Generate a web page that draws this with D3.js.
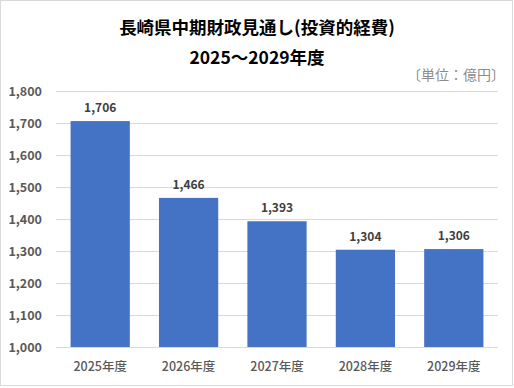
<!DOCTYPE html>
<html>
<head>
<meta charset="utf-8">
<script src="https://cdn.jsdelivr.net/npm/d3@7"></script>
<style>
  body { margin: 0; background: #fff; }
  svg { display: block; font-family: "Noto Sans CJK JP", "Noto Sans", sans-serif; }
</style>
</head>
<body>
<svg id="chart" width="514" height="388"></svg>
<script>
// data
var years = ["2025年度", "2026年度", "2027年度", "2028年度", "2029年度"]
var values = [1706, 1466, 1393, 1304, 1306]
var yTicks = [1000, 1100, 1200, 1300, 1400, 1500, 1600, 1700, 1800]

var svg = d3.select("#chart")

// outer frame
svg.append("rect")
  .attr("x", 0.5).attr("y", 0.5)
  .attr("width", 512).attr("height", 385)
  .attr("fill", "#fff")
  .attr("stroke", "#d9d9d9")

// titles
svg.append("text")
  .attr("x", 257).attr("y", 34)
  .attr("text-anchor", "middle")
  .style("font-size", "17.5px").style("font-weight", "bold")
  .attr("fill", "#000")
  .text("長崎県中期財政見通し(投資的経費)")

svg.append("text")
  .attr("x", 257).attr("y", 64)
  .attr("text-anchor", "middle")
  .style("font-size", "17.5px").style("font-weight", "bold")
  .attr("fill", "#000")
  .text("2025～2029年度")

svg.append("text")
  .attr("x", 505).attr("y", 80)
  .attr("text-anchor", "end")
  .style("font-size", "14px")
  .attr("fill", "#8c8c8c")
  .text("〔単位：億円〕")

var x = d3.scaleBand()
  .domain(years)
  .range([56, 498])
  .paddingInner(0.33)
  .paddingOuter(0.165)

var y = d3.scaleLinear()
  .domain([1000, 1800])
  .range([347, 91])

// gridlines
svg.append("g")
  .selectAll("line")
  .data(yTicks)
  .enter()
  .append("line")
    .attr("x1", 56).attr("x2", 498)
    .attr("y1", d => Math.round(y(d)) + 0.5)
    .attr("y2", d => Math.round(y(d)) + 0.5)
    .attr("stroke", "#d9d9d9")

// y axis labels
var yAxis = d3.axisLeft(y)
  .tickValues(yTicks)
  .tickFormat(d3.format(","))
  .tickSize(0)
  .tickPadding(0)

svg.append("g")
  .attr("transform", "translate(42,0)")
  .call(yAxis)
  .call(g => g.select(".domain").remove())
  .call(g => g.selectAll("text")
    .attr("fill", "#595959")
    .style("font-size", "12.5px")
    .style("font-weight", "bold")
    .style("font-family", "'Noto Sans CJK JP', sans-serif"))

// bars
svg.append("g")
  .selectAll("rect")
  .data(values)
  .enter()
  .append("rect")
    .attr("x", (d, i) => x(years[i]))
    .attr("y", d => y(d))
    .attr("width", x.bandwidth())
    .attr("height", d => y(1000) - y(d))
    .attr("fill", "#4472c4")

// value labels
svg.append("g")
  .selectAll("text")
  .data(values)
  .enter()
  .append("text")
    .attr("x", (d, i) => x(years[i]) + x.bandwidth() / 2)
    .attr("y", d => y(d) - 9)
    .attr("text-anchor", "middle")
    .style("font-size", "12px")
    .style("font-weight", "bold")
    .attr("fill", "#404040")
    .text(d => d3.format(",")(d))

// x axis labels
var xAxis = d3.axisBottom(x).tickSize(0).tickPadding(0)
svg.append("g")
  .attr("transform", "translate(0,362)")
  .call(xAxis)
  .call(g => g.select(".domain").remove())
  .call(g => g.selectAll("text")
    .attr("fill", "#595959")
    .style("font-size", "12.5px")
    .style("font-weight", "500")
    .style("font-family", "'Noto Sans CJK JP', sans-serif"))
</script>
</body>
</html>
